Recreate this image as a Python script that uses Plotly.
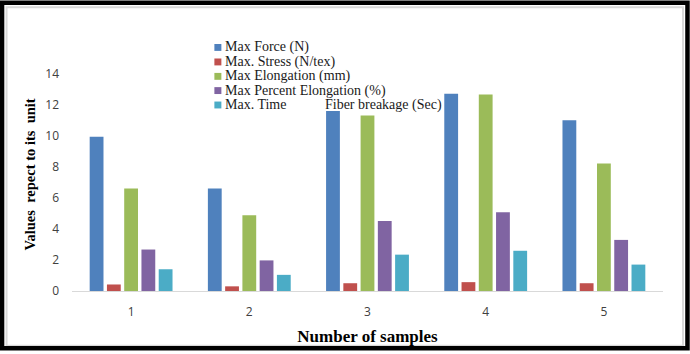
import plotly.graph_objects as go

samples = ["1", "2", "3", "4", "5"]
series_names = ["Max Force (N)", "Max. Stress (N/tex)", "Max Elongation (mm)",
                "Max Percent Elongation (%)", "Max. Time          Fiber breakage (Sec)"]
max_force = [9.93, 6.6, 11.58, 12.7, 11.0]
max_stress = [0.42, 0.3, 0.5, 0.57, 0.5]
max_elong = [6.6, 4.88, 11.3, 12.65, 8.21]
max_pct_elong = [2.67, 1.97, 4.5, 5.07, 3.29]
max_time = [1.4, 1.04, 2.34, 2.59, 1.7]
colors = ["#4F81BD", "#C0504D", "#9BBB59", "#8064A2", "#4BACC6"]

W, H = 690, 354
L, R, T, B = 72, 26.5, 58, 60
pw, ph = W - L - R, H - T - B

def px(x):
    return (x - L) / pw

def py(y):
    return (H - B - y) / ph

fig = go.Figure()
for name, vals, c in zip(series_names, [max_force, max_stress, max_elong, max_pct_elong, max_time], colors):
    fig.add_trace(go.Bar(x=samples, y=vals, name=name, marker=dict(color=c, line=dict(width=0))))

shapes = []
annotations = []
# legend (manual, compact)
leg_y = [47.3, 62.0, 76.6, 91.0, 105.6]
for name, c, yy in zip(series_names, colors, leg_y):
    shapes.append(dict(type="rect", xref="paper", yref="paper",
                       x0=px(214.5), x1=px(221.5), y0=py(yy + 3.5), y1=py(yy - 3.5),
                       fillcolor=c, line=dict(width=0)))
    annotations.append(dict(xref="paper", yref="paper", x=px(223), y=py(yy),
                            xanchor="left", yanchor="middle", showarrow=False,
                            text=name.replace("          ", "&nbsp;" * 11),
                            font=dict(family="Liberation Serif", size=14, color="#1a1a1a")))
# borders
shapes.append(dict(type="rect", xref="paper", yref="paper",
                   x0=px(6.5), x1=px(683.5), y0=py(349.5), y1=py(6.5),
                   line=dict(color="#D9D9D9", width=2), fillcolor="rgba(0,0,0,0)"))
shapes.append(dict(type="rect", xref="paper", yref="paper",
                   x0=px(2), x1=px(688), y0=py(352), y1=py(2),
                   line=dict(color="black", width=4.5), fillcolor="rgba(0,0,0,0)"))

fig.update_layout(
    width=W, height=H,
    margin=dict(l=L, r=R, t=T, b=B),
    paper_bgcolor="white", plot_bgcolor="white",
    barmode="group", bargap=0.27, bargroupgap=0.2,
    showlegend=False,
    shapes=shapes, annotations=annotations,
    xaxis=dict(showgrid=False, showline=True, linecolor="#D9D9D9", linewidth=1,
               tickfont=dict(family="Open Sans", size=12, color="#404040"),
               ticklabelstandoff=10,
               title=dict(text="<b>Number of samples</b>", standoff=10,
                          font=dict(family="Liberation Serif", size=17, color="black"))),
    yaxis=dict(range=[0, 15], tickvals=[0, 2, 4, 6, 8, 10, 12, 14], showgrid=False,
               zeroline=False, showline=False,
               tickfont=dict(family="Open Sans", size=12, color="#404040"),
               ticklabelstandoff=12,
               title=dict(text="<b>Values  repect to its  unit</b>", standoff=6,
                          font=dict(family="Liberation Serif", size=14.5, color="black"))),
)
fig.write_html("out.html")
